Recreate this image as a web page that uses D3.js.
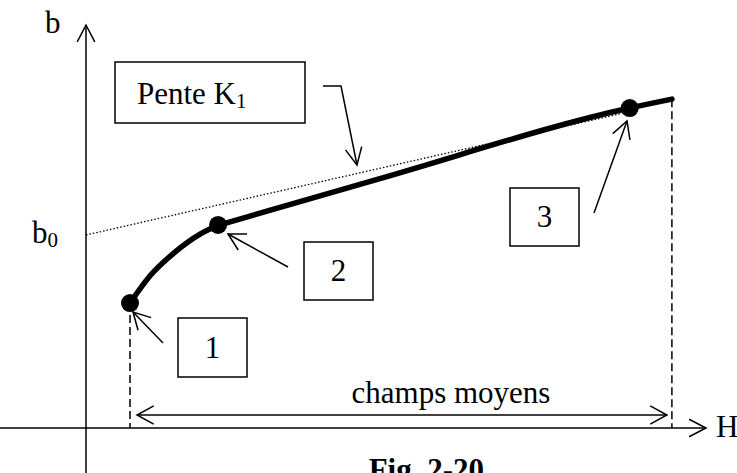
<!DOCTYPE html>
<html>
<head>
<meta charset="utf-8">
<script src="https://cdn.jsdelivr.net/npm/d3@7"></script>
<style>
  body { margin: 0; background: #fff; }
  text { font-family: "Liberation Serif", "Times New Roman", serif; fill: #000; }
</style>
</head>
<body>
<script>
// magnetisation curve b(H) (arbitrary units 0..100)
// first branch: point 1 up to point 2 (bent)
var lowH = [7.1, 10.3, 14.4, 18.4, 21.3];
var lowB = [31.0, 37.7, 43.7, 48.1, 50.3];
// second branch: point 2 to the end (almost straight)
var highH = [21.3, 47.4, 87.7, 94.5];
var highB = [50.3, 61.9, 79.4, 81.6];

// the three marked points
var pointH = [7.1, 21.3, 87.7];
var pointB = [31.0, 50.4, 79.4];
var pointLabels = ['1', '2', '3'];

// tangent of slope K1, meets the b axis at b0
var tangentH = [0, 87.7];
var tangentB = [47.9, 78.5];

// field range "champs moyens"
var rangeH = [7.1, 94.5];

var width = 737, height = 473;
var fs = 31;

var svg = d3.select('body').append('svg')
    .attr('width', width)
    .attr('height', height);

// scales: origin at (86,428), arrow tips at 100
var x = d3.scaleLinear().domain([0, 100]).range([86, 706]);
var y = d3.scaleLinear().domain([0, 100]).range([428, 25]);

var line = d3.line().x(function(d){ return x(d[0]); }).y(function(d){ return y(d[1]); });

// open arrowhead drawn at tip (tx,ty) coming from (fx,fy)
function arrowHead(g, fx, fy, tx, ty, len, spread) {
  var a = Math.atan2(ty - fy, tx - fx);
  var p1 = [tx - len * Math.cos(a - spread), ty - len * Math.sin(a - spread)];
  var p2 = [tx - len * Math.cos(a + spread), ty - len * Math.sin(a + spread)];
  g.append('path')
    .attr('d', 'M' + p1 + 'L' + tx + ',' + ty + 'L' + p2)
    .attr('fill', 'none').attr('stroke', '#000').attr('stroke-width', 1.5);
}

function arrow(g, fx, fy, tx, ty) {
  g.append('line')
    .attr('x1', fx).attr('y1', fy).attr('x2', tx).attr('y2', ty)
    .attr('stroke', '#000').attr('stroke-width', 1.5);
  arrowHead(g, fx, fy, tx, ty, 19, 0.5);
}

var g = svg.append('g');

// axes
g.append('line').attr('x1', x(0)).attr('y1', height).attr('x2', x(0)).attr('y2', y(100))
  .attr('stroke', '#000').attr('stroke-width', 1.5);
arrowHead(g, x(0), height, x(0), y(100), 19, 0.48);
g.append('line').attr('x1', 0).attr('y1', y(0)).attr('x2', x(100)).attr('y2', y(0))
  .attr('stroke', '#000').attr('stroke-width', 1.5);
arrowHead(g, 0, y(0), x(100), y(0), 19, 0.48);

g.append('text').attr('x', 45).attr('y', 33).attr('font-size', fs).text('b');
g.append('text').attr('x', 716).attr('y', 437).attr('font-size', fs).text('H');
var b0 = g.append('text').attr('x', 32).attr('y', 243).attr('font-size', fs);
b0.append('tspan').text('b');
b0.append('tspan').attr('font-size', 21).attr('dy', 4).text('0');

// dashed verticals at the ends of the range
rangeH.forEach(function(h, i){
  var top = i === 0 ? pointB[0] : highB[highB.length - 1];
  g.append('line')
    .attr('x1', x(h)).attr('x2', x(h))
    .attr('y1', y(top)).attr('y2', y(0))
    .attr('stroke', '#000').attr('stroke-width', 1.5)
    .attr('stroke-dasharray', '8,4');
});

// double arrow "champs moyens"
var ry = y(0) - 13;
g.append('line').attr('x1', x(rangeH[0]) + 7).attr('x2', x(rangeH[1]) - 5)
  .attr('y1', ry).attr('y2', ry).attr('stroke', '#000').attr('stroke-width', 1.5);
arrowHead(g, x(rangeH[1]), ry, x(rangeH[0]) + 7, ry, 19, 0.5);
arrowHead(g, x(rangeH[0]), ry, x(rangeH[1]) - 5, ry, 19, 0.5);
g.append('text').attr('x', 451).attr('y', 403).attr('font-size', fs)
  .attr('text-anchor', 'middle').text('champs moyens');

// tangent (dotted)
g.append('path')
  .datum(d3.zip(tangentH, tangentB))
  .attr('d', line)
  .attr('fill', 'none').attr('stroke', '#000').attr('stroke-width', 1.3)
  .attr('stroke-dasharray', '1.5,2');

// the curve, in two smooth branches
var smooth = d3.line().x(function(d){ return x(d[0]); }).y(function(d){ return y(d[1]); })
  .curve(d3.curveMonotoneX);
[d3.zip(lowH, lowB), d3.zip(highH, highB)].forEach(function(branch){
  g.append('path')
    .datum(branch)
    .attr('d', smooth)
    .attr('fill', 'none').attr('stroke', '#000').attr('stroke-width', 5.5)
    .attr('stroke-linecap', 'round');
});

g.selectAll('circle.pt')
  .data(d3.zip(pointH, pointB))
  .enter().append('circle')
  .attr('class', 'pt')
  .attr('cx', function(d){ return x(d[0]); })
  .attr('cy', function(d){ return y(d[1]); })
  .attr('r', 9)
  .attr('fill', '#000');

// numbered callouts: box and arrow pointing to each point
var boxes = [
  {x: 178, y: 318, w: 69, h: 59, from: [163, 343], to: [133, 312]},
  {x: 304, y: 242, w: 69, h: 58, from: [288, 267], to: [228, 234]},
  {x: 510, y: 188, w: 69, h: 58, from: [594, 213], to: [627, 121]}
];
boxes.forEach(function(b, i){
  g.append('rect').attr('x', b.x).attr('y', b.y).attr('width', b.w).attr('height', b.h)
    .attr('fill', 'none').attr('stroke', '#000').attr('stroke-width', 1.5);
  g.append('text').attr('x', b.x + b.w / 2).attr('y', b.y + b.h / 2 + 10)
    .attr('font-size', fs).attr('text-anchor', 'middle').text(pointLabels[i]);
  arrow(g, b.from[0], b.from[1], b.to[0], b.to[1]);
});

// "Pente K1" box with bent arrow to the tangent
g.append('rect').attr('x', 115).attr('y', 62).attr('width', 190).attr('height', 61)
  .attr('fill', 'none').attr('stroke', '#000').attr('stroke-width', 1.5);
var pk = g.append('text').attr('x', 137).attr('y', 104).attr('font-size', fs);
pk.append('tspan').text('Pente K');
pk.append('tspan').attr('font-size', 21).attr('dy', 4).text('1');
g.append('path').attr('d', 'M323,86L341,86L357,165')
  .attr('fill', 'none').attr('stroke', '#000').attr('stroke-width', 1.5);
arrowHead(g, 341, 86, 357, 165, 19, 0.45);

// caption (cut by the bottom edge, as in the original figure)
g.append('text').attr('x', 484).attr('y', 480).attr('font-size', fs)
  .attr('font-weight', 'bold').attr('text-anchor', 'end').text('Fig. 2-20');
</script>
</body>
</html>
